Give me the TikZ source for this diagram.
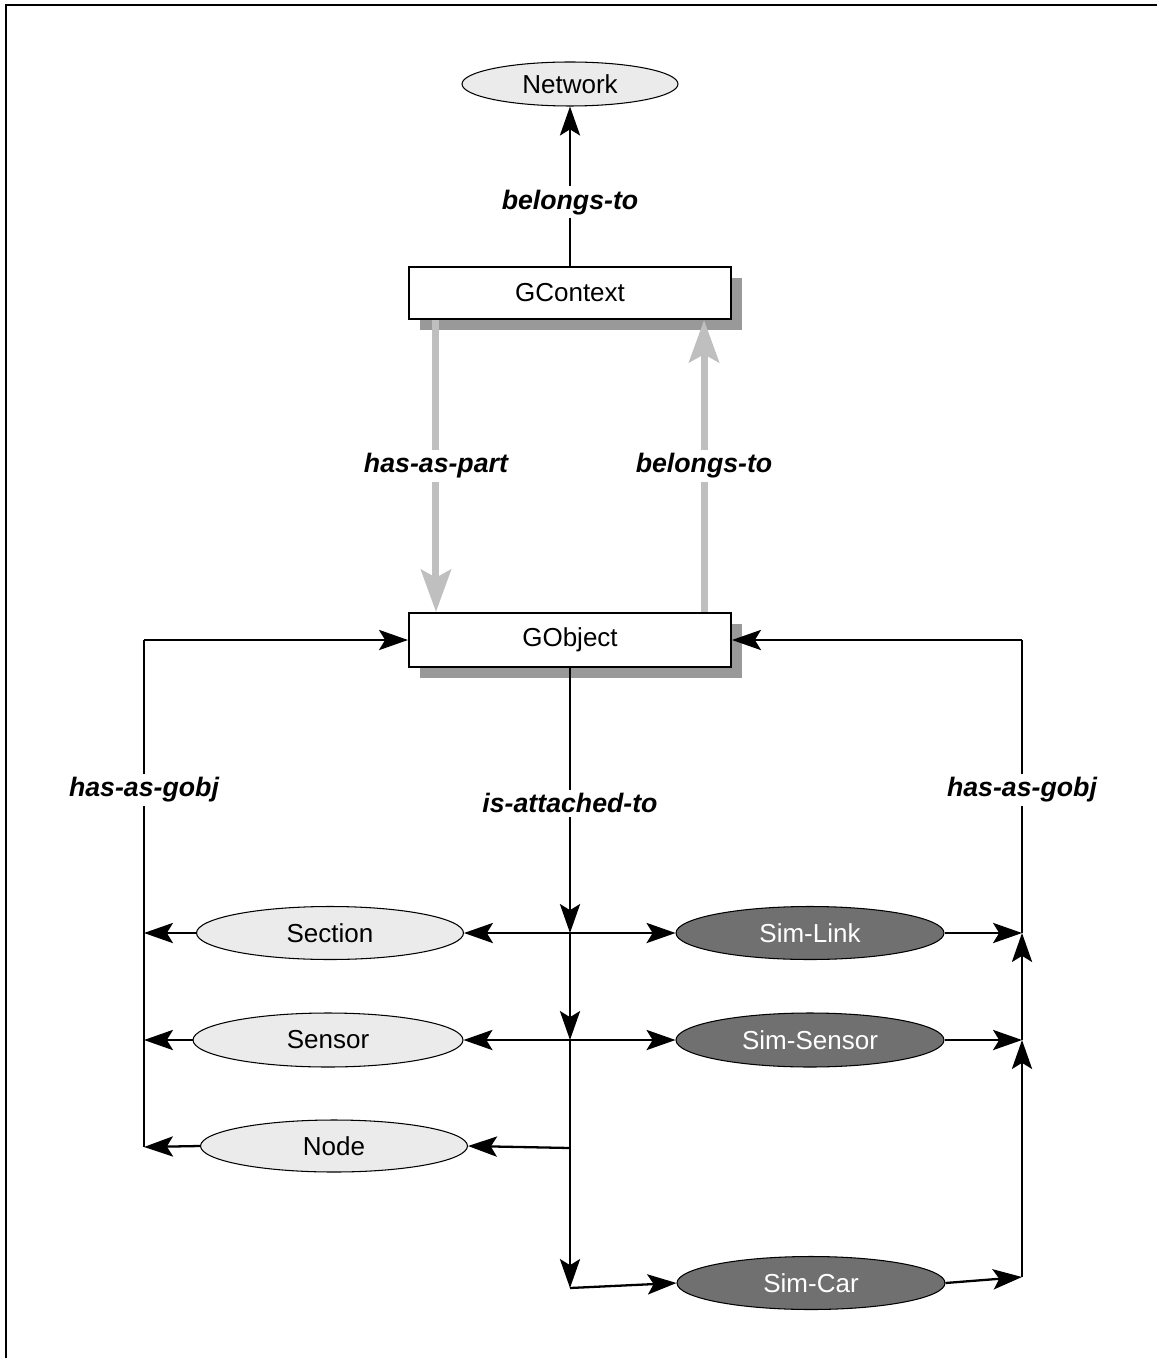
\documentclass[tikz,border=0pt]{standalone}
\usepackage{fontspec}
\setmainfont{Liberation Sans}
\usetikzlibrary{shapes.geometric,arrows.meta,shadows}

\begin{document}
\begin{tikzpicture}[x=0.02cm,y=-0.02cm,
  every node/.style={font=\fontsize{14.8}{17}\selectfont},
  blk/.style={line width=1.3pt,-{Stealth[length=16.5pt,width=11.5pt,inset=3.5pt]}},
  plain/.style={line width=1.3pt},
  gry/.style={line width=4pt,draw=black!25,-{Stealth[length=24pt,width=17pt,inset=4.5pt]}},
  cls/.style={draw,line width=1.2pt,fill=white,rectangle,minimum width=6.44cm,
    inner sep=0pt,drop shadow={shadow xshift=0.22cm,shadow yshift=-0.22cm,opacity=1,fill=black!40}},
  lite/.style={ellipse,draw,line width=0.6pt,fill=black!8,inner sep=0pt,
    minimum width=5.34cm,minimum height=1.06cm},
  dark/.style={ellipse,draw,line width=0.6pt,fill=black!56,text=white,inner sep=0pt,
    minimum width=5.36cm,minimum height=1.06cm},
  lbl/.style={fill=white,inner sep=2pt,font=\fontsize{15.2}{17}\selectfont\bfseries\itshape}]

\useasboundingbox (0,0) rectangle (1157,1358);
% partial frame
\draw[line width=1.2pt] (6,1358) -- (6,5) -- (1157,5);

% class boxes
\node[cls,minimum height=1.04cm] (GContext) at (570,293) {GContext};
\node[cls,minimum height=1.08cm] (GObject) at (570,640) {GObject};

% entities
\node[lite,minimum width=4.32cm,minimum height=0.88cm] (Network) at (570,84) {Network};
\node[lite] (Section) at (330,933) {Section};
\node[lite,minimum width=5.4cm,minimum height=1.08cm] (Sensor) at (328,1040) {Sensor};
\node[lite,minimum height=1.04cm] (Node) at (334,1146) {Node};
\node[dark] (SimLink) at (810,933) {Sim-Link};
\node[dark,minimum height=1.08cm] (SimSensor) at (810,1040) {Sim-Sensor};
\node[dark] (SimCar) at (811,1283) {Sim-Car};

% junction points
\coordinate (m1) at (570,933);
\coordinate (m2) at (570,1040);
\coordinate (m3) at (570,1148);
\coordinate (m4) at (570,1288);
\coordinate (l0) at (144,640);
\coordinate (l1) at (144,933);
\coordinate (l2) at (144,1040);
\coordinate (l3) at (144,1147);
\coordinate (r0) at (1022,640);
\coordinate (r1) at (1022,933);
\coordinate (r2) at (1022,1040);
\coordinate (r3) at (1022,1277);

% GContext -> Network
\draw[blk] (GContext.north) -- (Network.south)
  node[lbl,pos=0.4] (bt1) {belongs-to};

% GContext <-> GObject
\draw[gry] ([xshift=0.56cm]GContext.south west) -- ([xshift=0.56cm]GObject.north west)
  node[lbl,pos=0.5] (hap) {has-as-part};
\draw[gry] ([xshift=-0.56cm]GObject.north east) -- ([xshift=-0.56cm]GContext.south east)
  node[lbl,pos=0.5] (bt2) {belongs-to};

% is-attached-to trunk
\draw[blk] (GObject.south) -- (m1) node[lbl,pos=0.51] (iat) {is-attached-to};
\draw[blk] (m1) -- (m2);
\draw[blk] (m2) -- (m4);
\draw[blk] (m1) -- (Section.east);
\draw[blk] (m1) -- (SimLink.west);
\draw[blk] (m2) -- (Sensor.east);
\draw[blk] (m2) -- (SimSensor.west);
\draw[blk] (m3) -- (Node.east);
\draw[blk] (m4) -- (SimCar.west);

% left has-as-gobj
\draw[plain] (l3) -- (l0);
\draw[blk] (l0) -- (GObject.west);
\draw[blk] (Section.west) -- (l1);
\draw[blk] (Sensor.west) -- (l2);
\draw[blk] (Node.west) -- (l3);
\node[lbl] (hg1) at (144,790) {has-as-gobj};

% right has-as-gobj
\draw[blk] (r3) -- (r2);
\draw[blk] (r2) -- (r1);
\draw[plain] (r1) -- (r0);
\draw[blk] (r0) -- (GObject.east);
\draw[blk] (SimLink.east) -- (r1);
\draw[blk] (SimSensor.east) -- (r2);
\draw[blk] (SimCar.east) -- (r3);
\node[lbl] (hg2) at (1022,790) {has-as-gobj};
\end{tikzpicture}
\end{document}
